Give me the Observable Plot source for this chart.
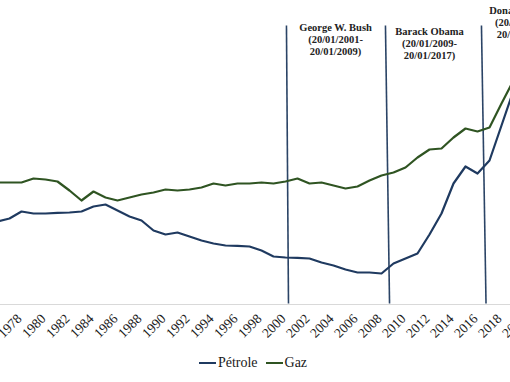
<!DOCTYPE html>
<html>
<head>
<meta charset="utf-8">
<script src="https://cdn.jsdelivr.net/npm/d3@7"></script>
<script src="https://cdn.jsdelivr.net/npm/@observablehq/plot@0.6"></script>
<style>
  html, body { margin: 0; padding: 0; background: #fff; overflow: hidden; }
  #chart { width: 510px; height: 382px; position: relative; }
  .legend { position: absolute; left: 0; top: 352px; width: 506px; height: 22px;
    display: flex; justify-content: center; align-items: center;
    font-family: "Liberation Serif", serif; font-size: 14px; color: #1a1a1a; }
  .legend .sw { display: inline-block; width: 17px; height: 2px; margin-right: 2px; }
  .legend .item { display: flex; align-items: center; margin: 0 4px; }
</style>
</head>
<body>
<div id="chart"></div>
<script>
const years = d3.range(1976, 2020);
const petrole = [41.5, 43, 46.5, 45.5, 45.5, 45.8, 46, 46.5, 49, 50,
  47, 44, 42, 37, 35, 36, 34, 32, 30.5, 29.5,
  29.3, 29, 27, 24, 23.5, 23.3, 23, 21, 19.5, 17.5,
  16, 16, 15.5, 20.5, 23, 25.5, 35, 45.5, 60.5, 69,
  65.5, 72, 89.5, 107];
const gaz = [61, 61, 61, 63, 62.5, 61.5, 57, 52, 56.5, 53.5,
  52, 53.5, 55, 56, 57.5, 57, 57.5, 58.5, 60.5, 59.5,
  60.5, 60.5, 61, 60.5, 61.5, 63, 60.5, 61, 59.5, 58,
  59, 62, 64.5, 66, 68.5, 73.5, 77.5, 78, 83.5, 88,
  86.5, 88.5, 100.5, 112];
const tickYears = d3.range(1978, 2022, 2);
const seriesNames = ["Pétrole", "Gaz"];
const seriesColors = ["#1f3a60", "#2f5422"];
const presidents = ["George W. Bush", "Barack Obama", "Donald Trump"];
const mandates = ["(20/01/2001-\n20/01/2009)", "(20/01/2009-\n20/01/2017)", "(20/01/2017-\n20/01/2021)"];
const lineTop = [2000.08, 2008.33, 2016.33];
const lineBottom = [2000.25, 2008.67, 2016.71];
const labelX = [2004.17, 2012.0, 2019.75];
const labelY = [141, 139, 149.5];

const rows = [];
years.forEach((yr, i) => {
  rows.push({year: yr, value: petrole[i], serie: seriesNames[0]});
  rows.push({year: yr, value: gaz[i], serie: seriesNames[1]});
});
const pres = presidents.map((p, i) => ({name: p, mandate: mandates[i], top: lineTop[i], bottom: lineBottom[i], lx: labelX[i], ly: labelY[i]}));

const serif = "Liberation Serif, serif";

const plot = Plot.plot({
  width: 510,
  height: 340,
  marginLeft: 0, marginRight: 0, marginTop: 0, marginBottom: 36,
  x: {domain: [1976.25, 2018.75], axis: null},
  y: {domain: [0, 152], axis: null},
  color: {domain: seriesNames, range: seriesColors},
  style: {fontFamily: serif, background: "#fff", overflow: "hidden"},
  marks: [
    Plot.ruleY([0], {stroke: "#d9d9d9", strokeWidth: 1.2}),
    Plot.link(pres, {x1: "top", x2: "bottom", y1: 139.5, y2: 0.5, stroke: "#2b4466", strokeWidth: 1.6}),
    Plot.line(rows, {x: "year", y: "value", z: "serie", stroke: "serie", strokeWidth: 2.2, strokeLinejoin: "round"}),
    Plot.text(pres, {x: "lx", y: "ly", text: d => d.name + "\n" + d.mandate, lineAnchor: "top", lineHeight: 1.14,
      fontSize: 10.5, fontWeight: "bold", fill: "#222", textAnchor: "middle", fontFamily: serif}),
    Plot.text(tickYears, {x: d => d, text: d => String(d), frameAnchor: "bottom", dy: 15, dx: 1, rotate: -45, textAnchor: "end",
      fontSize: 13.5, fill: "#1a1a1a", fontFamily: serif})
  ]
});
document.getElementById("chart").appendChild(plot);

const legend = document.createElement("div");
legend.className = "legend";
seriesNames.forEach((n, i) => {
  const it = document.createElement("span");
  it.className = "item";
  const sw = document.createElement("span");
  sw.className = "sw";
  sw.style.background = seriesColors[i];
  it.appendChild(sw);
  it.appendChild(document.createTextNode(n));
  legend.appendChild(it);
});
document.getElementById("chart").appendChild(legend);
</script>
</body>
</html>
